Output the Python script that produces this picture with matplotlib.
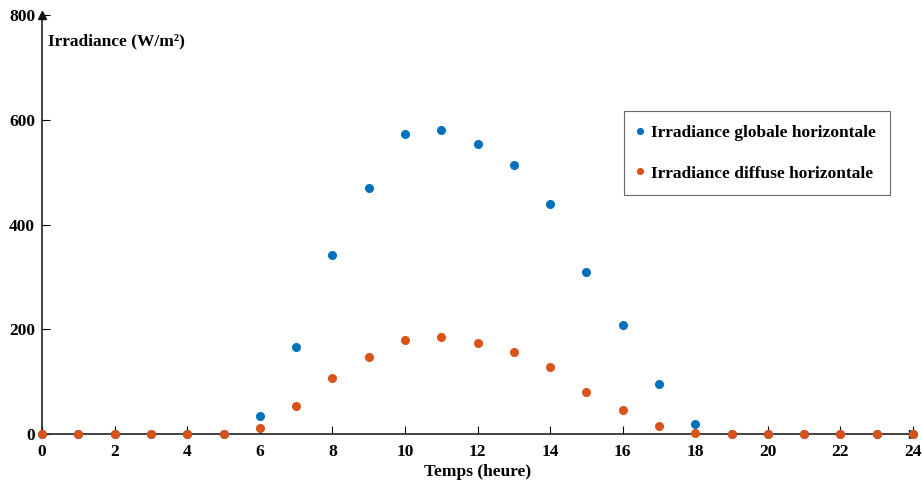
import matplotlib.pyplot as plt
import numpy as np

plt.rcParams["font.family"] = ["Liberation Serif", "DejaVu Serif"]
plt.rcParams["font.weight"] = "bold"

hours = np.arange(0, 25)
ghi = [0, 0, 0, 0, 0, 0, 34, 166, 341, 469, 573, 581, 554, 514, 440, 310,
       208, 95, 19, 0, 0, 0, 0, 0, 0]
dhi = [0, 0, 0, 0, 0, 0, 11, 53, 107, 147, 179, 185, 173, 156, 128, 80,
       46, 15, 1, 0, 0, 0, 0, 0, 0]

blue = "#0072BD"
orange = "#D95319"
fs = 12.5

fig = plt.figure(figsize=(9.22, 4.82), dpi=100)
ax = fig.add_axes([0.0456, 0.0996, 0.9447, 0.869])

ax.plot(hours, ghi, "o", color=blue, ms=5.5, clip_on=False, zorder=4,
        label="Irradiance globale horizontale")
ax.plot(hours, dhi, "o", color=orange, ms=5.5, clip_on=False, zorder=5,
        label="Irradiance diffuse horizontale")

ax.set_xlim(0, 24)
ax.set_ylim(0, 800)
ax.set_xticks(np.arange(0, 25, 2))
ax.set_yticks([0, 200, 400, 600, 800])
ax.tick_params(direction="in", length=6, width=0.8, labelsize=fs)
ax.tick_params(axis="x", pad=7)
ax.tick_params(axis="y", pad=5)
for lab in ax.get_xticklabels() + ax.get_yticklabels():
    lab.set_fontweight("bold")

ax.spines["top"].set_visible(False)
ax.spines["right"].set_visible(False)
for s in ("left", "bottom"):
    ax.spines[s].set_linewidth(1.2)
    ax.spines[s].set_color("#222222")

# axis arrows
ax.plot(1, 0, ">", color="#111111", ms=6, transform=ax.get_yaxis_transform(),
        clip_on=False, zorder=3)
ax.plot(0, 1, "^", color="#111111", ms=6, transform=ax.get_xaxis_transform(),
        clip_on=False, zorder=3)

ax.text(0.17, 750, "Irradiance (W/m²)", fontsize=fs, fontweight="bold",
        ha="left", va="center")
ax.set_xlabel("Temps (heure)", fontsize=fs, fontweight="bold", labelpad=3)

leg = ax.legend(loc="upper right", bbox_to_anchor=(0.9736, 0.771),
                borderaxespad=0, fontsize=fs, frameon=True, fancybox=False,
                handletextpad=0.5, handlelength=0.3, borderpad=0.8,
                labelspacing=1.4, markerscale=0.75)
leg.get_frame().set_edgecolor("#444444")
leg.get_frame().set_linewidth(0.8)

fig.savefig("out.png", dpi=100)
